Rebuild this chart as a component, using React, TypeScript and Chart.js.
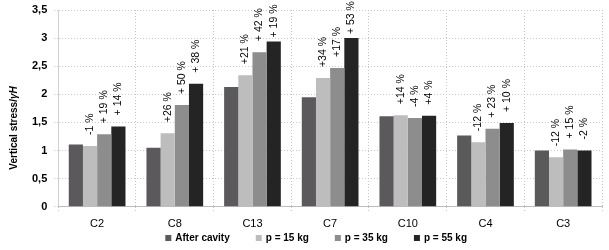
import React, { useEffect, useRef } from "react";
import { Chart, registerables } from "chart.js";

Chart.register(...registerables);

const categories = ["C2", "C8", "C13", "C7", "C10", "C4", "C3"];
const seriesNames = ["After cavity", "p = 15 kg", "p = 35 kg", "p = 55 kg"];
const afterCavity = [1.11, 1.05, 2.13, 1.95, 1.61, 1.27, 1.0];
const p15 = [1.08, 1.31, 2.34, 2.29, 1.63, 1.15, 0.88];
const p35 = [1.29, 1.81, 2.75, 2.47, 1.58, 1.39, 1.02];
const p55 = [1.43, 2.19, 2.94, 3.0, 1.62, 1.49, 1.0];
const p15Labels = ["-1 %", "+26 %", "+21 %", "+34 %", "+14 %", "-12 %", "-12 %"];
const p35Labels = ["+ 19 %", "+ 50 %", "+ 42 %", "+17 %", "-4 %", "+ 23 %", "+ 15 %"];
const p55Labels = ["+ 14 %", "+ 38 %", "+ 19 %", "+ 53 %", "+4 %", "+ 10 %", "-2 %"];
const yTicks = ["0", "0,5", "1", "1,5", "2", "2,5", "3", "3,5"];
const yTitleMain = "Vertical stress/";
const yTitleItalic = "γH";

const colors = ["#5b595c", "#bebdbe", "#8e8d8e", "#252425"];
const NARROW = "'Liberation Sans Narrow', 'Liberation Sans', Arial, sans-serif";
const SANS = "'Liberation Sans', Arial, sans-serif";

const labelPlugin = {
  id: "rotLabels",
  afterDatasetsDraw(chart: any) {
    const ctx = chart.ctx;
    const labelSets: (string[] | null)[] = [null, p15Labels, p35Labels, p55Labels];
    ctx.save();
    ctx.font = "10.5px " + NARROW;
    ctx.fillStyle = "#000";
    ctx.textAlign = "left";
    ctx.textBaseline = "middle";
    labelSets.forEach((labels, di) => {
      if (!labels) return;
      const meta = chart.getDatasetMeta(di);
      meta.data.forEach((bar: any, i: number) => {
        const w = ctx.measureText(labels[i]).width;
        const start = Math.min(bar.y - 4, Math.max(bar.y - 11, 6 + w));
        ctx.save();
        ctx.translate(bar.x, start);
        ctx.rotate(-Math.PI / 2);
        ctx.fillText(labels[i], 0, 0);
        ctx.restore();
      });
    });
    ctx.restore();
  },
  afterDraw(chart: any) {
    const ctx = chart.ctx;
    const ys = chart.scales.y;
    const area = chart.chartArea;
    // y-axis title with italic γH
    ctx.save();
    const f1 = "bold 10px " + SANS;
    const f2 = "italic bold 10px " + SANS;
    ctx.font = f1;
    const w1 = ctx.measureText(yTitleMain).width;
    ctx.font = f2;
    const w2 = ctx.measureText(yTitleItalic).width;
    ctx.translate(ys.left + 6, chart.height / 2 + 3);
    ctx.rotate(-Math.PI / 2);
    ctx.fillStyle = "#000";
    ctx.textBaseline = "middle";
    ctx.textAlign = "left";
    const start = -(w1 + w2) / 2;
    ctx.font = f1;
    ctx.fillText(yTitleMain, start, 0);
    ctx.font = f2;
    ctx.fillText(yTitleItalic, start + w1, 0);
    ctx.restore();

    // legend
    ctx.save();
    ctx.font = "bold 10px " + SANS;
    const box = 6;
    const gapText = 4;
    const gapItem = 26;
    const widths = seriesNames.map((n) => box + gapText + ctx.measureText(n).width);
    const total = widths.reduce((a, b) => a + b, 0) + gapItem * (seriesNames.length - 1);
    let x = (area.left + area.right) / 2 - 14 - total / 2;
    const y = chart.height - 12;
    ctx.textBaseline = "middle";
    ctx.textAlign = "left";
    seriesNames.forEach((n, i) => {
      ctx.fillStyle = colors[i];
      ctx.fillRect(x, y - box / 2, box, box);
      ctx.fillStyle = "#000";
      ctx.fillText(n, x + box + gapText, y + 0.5);
      x += widths[i] + gapItem;
    });
    ctx.restore();
  },
};

export default function App() {
  const ref = useRef<HTMLCanvasElement | null>(null);
  useEffect(() => {
    if (!ref.current) return;
    const data = [afterCavity, p15, p35, p55];
    const chart = new Chart(ref.current, {
      type: "bar",
      data: {
        labels: categories,
        datasets: seriesNames.map((name, i) => ({
          label: name,
          data: data[i],
          backgroundColor: colors[i],
          borderWidth: 0,
          categoryPercentage: 0.73,
          barPercentage: 1.0,
        })),
      },
      options: {
        animation: false,
        responsive: false,
        maintainAspectRatio: false,
        layout: { padding: { left: 8, right: 7, top: 10, bottom: 13 } },
        plugins: {
          tooltip: { enabled: false },
          legend: { display: false },
        },
        scales: {
          x: {
            grid: {
              display: true,
              offset: true,
              color: "#c4c4c4",
              tickLength: 5,
              tickColor: "#c4c4c4",
              tickBorderDash: [1, 2],
            },
            border: { display: true, color: "#bcbcbc", dash: [1, 2] },
            ticks: {
              color: "#000",
              font: { family: NARROW, size: 11 },
              padding: 6,
            },
          },
          y: {
            min: 0,
            max: 3.5,
            afterFit: (s: any) => {
              s.paddingTop = 0;
              s.paddingBottom = 0;
            },
            grid: {
              color: "#c8c8c8",
              tickLength: 4,
              tickColor: "#c8c8c8",
              tickBorderDash: [1, 2],
            },
            border: { display: true, color: "#d0d0d0", dash: [1, 2] },
            ticks: {
              stepSize: 0.5,
              color: "#000",
              font: { family: SANS, size: 11, weight: "bold" },
              padding: 7,
              callback: (v: any) => yTicks[Math.round(Number(v) * 2)] ?? "",
            },
            title: {
              display: true,
              text: yTitleMain + yTitleItalic,
              color: "rgba(0,0,0,0)",
              font: { family: SANS, size: 10, weight: "bold" },
              padding: { top: 0, bottom: 5 },
            },
          },
        },
      },
      plugins: [labelPlugin],
    } as any);
    return () => chart.destroy();
  }, []);
  return (
    <div style={{ position: "fixed", left: 0, top: 0, width: 609, height: 250, background: "#fff" }}>
      <canvas ref={ref} width={609} height={250} style={{ width: 609, height: 250 }} />
    </div>
  );
}
